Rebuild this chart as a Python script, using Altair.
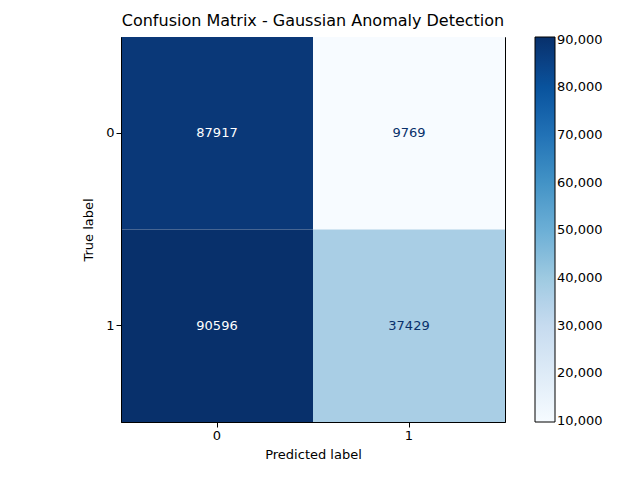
import altair as alt
import pandas as pd

true_labels = ["0", "0", "1", "1"]
pred_labels = ["0", "1", "0", "1"]
counts = [87917, 9769, 90596, 37429]

df = pd.DataFrame({"true": true_labels, "pred": pred_labels, "count": counts})

blues = ["#f7fbff", "#deebf7", "#c6dbef", "#9ecae1", "#6baed6",
         "#4292c6", "#2171b5", "#08519c", "#08306b"]
lo, hi = min(counts), max(counts)
stops = [lo + (hi - lo) * i / 8 for i in range(9)]
font = "DejaVu Sans"

base = alt.Chart(df).encode(
    x=alt.X("pred:N", title="Predicted label",
            axis=alt.Axis(labelAngle=0, labelFontSize=13, titleFontSize=13,
                          labelFont=font, titleFont=font, labelColor="black",
                          titleColor="black", domainColor="black", tickColor="black",
                          titleFontWeight="normal", titlePadding=6)),
    y=alt.Y("true:N", title="True label",
            axis=alt.Axis(labelAngle=0, labelFontSize=13, titleFontSize=13,
                          labelFont=font, titleFont=font, labelColor="black",
                          titleColor="black", domainColor="black", tickColor="black",
                          titleFontWeight="normal", titlePadding=10)),
)

rect = base.mark_rect().encode(
    color=alt.Color("count:Q", title=None,
                    scale=alt.Scale(domain=stops, range=blues),
                    legend=alt.Legend(orient="none", legendX=414, legendY=0,
                                      gradientLength=385, gradientThickness=20,
                                      values=list(range(10000, 90001, 10000)),
                                      labelFontSize=13, labelFont=font,
                                      labelColor="black", gradientStrokeColor="black",
                                      gradientStrokeWidth=1))
)

text = base.mark_text(fontSize=13, font=font).encode(
    text="count:Q",
    color=alt.condition(alt.datum.count > (lo + hi) / 2,
                        alt.value("white"), alt.value("#08306b")),
)

chart = (rect + text).properties(
    width=384, height=385,
    title=alt.TitleParams("Confusion Matrix - Gaussian Anomaly Detection",
                          fontSize=16, font=font, fontWeight="normal", color="black",
                          offset=8),
    autosize=alt.AutoSizeParams(type="none"),
    padding={"left": 113, "top": 29, "right": 127, "bottom": 50},
).configure_view(stroke="black", strokeWidth=1).configure_scale(bandPaddingInner=0)

chart.save("out.html", embed_options={"renderer": "svg", "actions": False})
